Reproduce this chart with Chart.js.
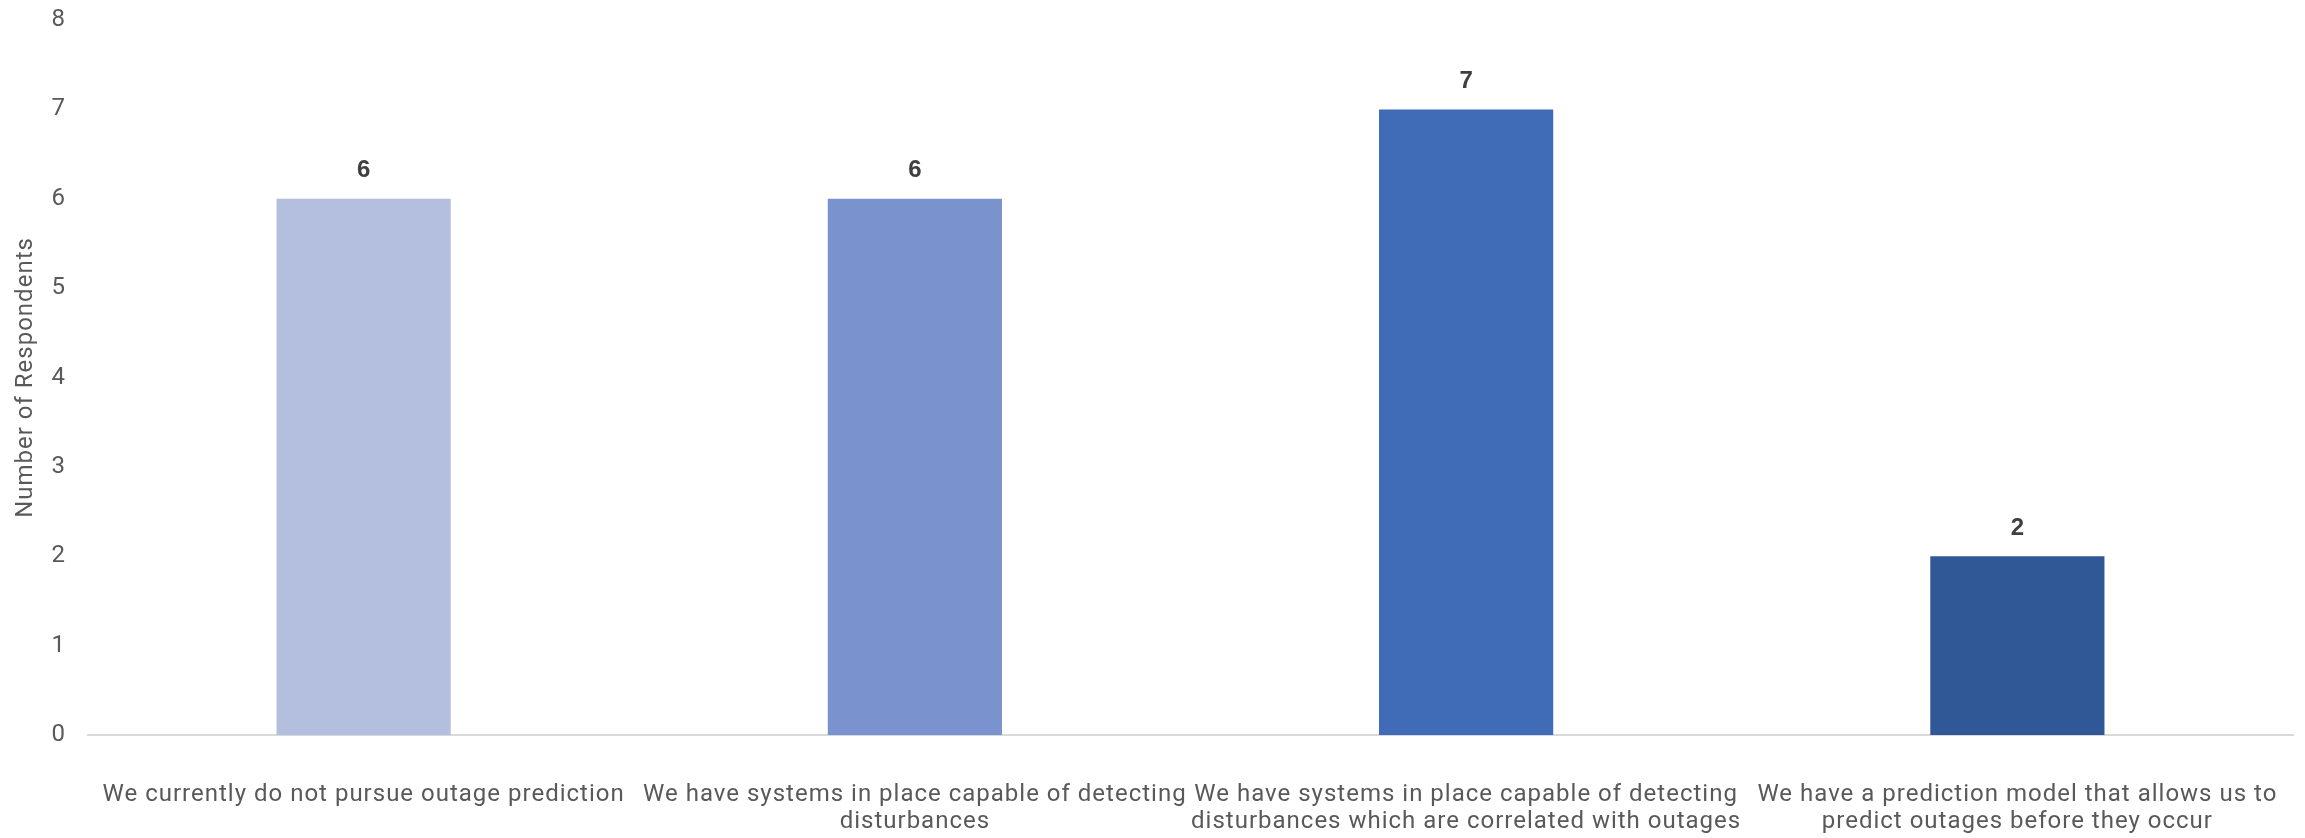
<!DOCTYPE html>
<html>
<head>
<meta charset="utf-8">
<script src="https://cdn.jsdelivr.net/npm/chart.js@4.4.1/dist/chart.umd.min.js"></script>
<style>
  html, body { margin: 0; padding: 0; background: #fff; }
  #wrap { width: 2305px; height: 838px; }
</style>
</head>
<body>
<div id="wrap"><canvas id="chart"></canvas></div>
<script>
// Survey answers and respondent counts
const categories = [
    ["We currently do not pursue outage prediction"],
    ["We have systems in place capable of detecting", "disturbances"],
    ["We have systems in place capable of detecting", "disturbances which are correlated with outages"],
    ["We have a prediction model that allows us to", "predict outages before they occur"]
];
const respondents = [6, 6, 7, 2];
const barColors = ['#B4BFE0', '#7A93CF', '#3F6BB7', '#315896'];
const yTicks = [0, 1, 2, 3, 4, 5, 6, 7, 8];

// Slightly tracked-out axis text
const letterSpacing = {
    id: 'letterSpacing',
    beforeDraw(chart) { chart.ctx.letterSpacing = '1px'; },
    afterDraw(chart) { chart.ctx.letterSpacing = '0px'; }
};

// Draw the value above each bar
const valueLabels = {
    id: 'valueLabels',
    afterDatasetsDraw(chart) {
        const ctx = chart.ctx;
        const meta = chart.getDatasetMeta(0);
        ctx.save();
        ctx.letterSpacing = '0px';
        ctx.font = 'bold 24px "Liberation Sans", Arial, sans-serif';
        ctx.fillStyle = '#404040';
        ctx.textAlign = 'center';
        ctx.textBaseline = 'middle';
        meta.data.forEach((bar, i) => {
            ctx.fillText(String(respondents[i]), bar.x, bar.y - 28);
        });
        ctx.restore();
    }
};

const ctx = document.getElementById('chart').getContext('2d');
new Chart(ctx, {
    type: 'bar',
    data: {
        labels: categories,
        datasets: [{
            data: respondents,
            backgroundColor: barColors,
            borderWidth: 0,
            categoryPercentage: 1,
            barPercentage: 0.316
        }]
    },
    options: {
        responsive: true,
        maintainAspectRatio: false,
        animation: false,
        layout: { padding: { top: 20, right: 12, bottom: 0, left: 0 } },
        plugins: {
            legend: { display: false },
            tooltip: { enabled: false }
        },
        scales: {
            x: {
                grid: { display: false, drawTicks: false },
                border: { display: true, color: '#D9D9D9', width: 2 },
                ticks: {
                    color: '#595959',
                    font: { family: 'Roboto, sans-serif', size: 24, lineHeight: 1.15 },
                    padding: 46,
                    maxRotation: 0,
                    autoSkip: false
                },
                afterFit(scale) { scale.height = 103; }
            },
            y: {
                min: 0,
                max: 8,
                grid: { display: false, drawTicks: false },
                border: { display: false },
                afterBuildTicks(scale) { scale.ticks = yTicks.map(v => ({ value: v })); },
                ticks: {
                    color: '#595959',
                    font: { family: 'Roboto, sans-serif', size: 24 },
                    padding: 22
                },
                title: {
                    display: true,
                    text: 'Number of Respondents',
                    color: '#595959',
                    font: { family: 'Roboto, sans-serif', size: 24 },
                    padding: { top: 12, bottom: 0 }
                },
                afterFit(scale) {
                    scale.width = 88;
                    scale.paddingTop = 0;
                }
            }
        }
    },
    plugins: [letterSpacing, valueLabels]
});
</script>
</body>
</html>
